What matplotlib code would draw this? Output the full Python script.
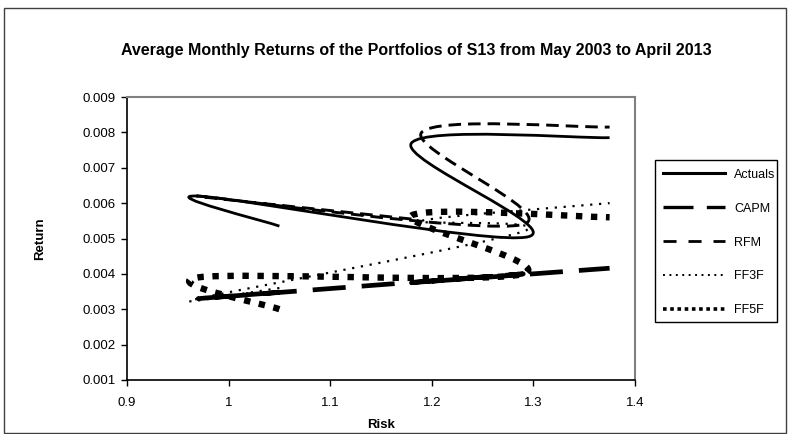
import numpy as np
import matplotlib
matplotlib.use("Agg")
import matplotlib.pyplot as plt
from matplotlib.path import Path
from matplotlib.patches import PathPatch, Rectangle
from matplotlib.lines import Line2D

# ---- data ----
series_names = ["Actuals", "CAPM", "RFM", "FF3F", "FF5F"]

actuals_risk = [1.05, 0.97, 1.295, 1.18, 1.375]
actuals_ret = [0.00535, 0.0062, 0.00505, 0.0077, 0.00785]

capm_risk = [1.05, 0.97, 1.29, 1.18, 1.375]
capm_ret = [0.00348, 0.0033, 0.0040, 0.00375, 0.00416]

rfm_risk = [1.18, 0.97, 1.29, 1.19, 1.375]
rfm_ret = [0.00555, 0.0062, 0.0054, 0.0080, 0.00815]

ff3f_risk = [1.05, 0.97, 1.29, 1.19, 1.375]
ff3f_ret = [0.0036, 0.0033, 0.0052, 0.0055, 0.0060]

ff5f_risk = [1.05, 0.97, 1.29, 1.18, 1.375]
ff5f_ret = [0.0030, 0.0039, 0.0040, 0.00565, 0.0056]

x_ticks = [0.9, 1, 1.1, 1.2, 1.3, 1.4]
x_ticklabels = ["0.9", "1", "1.1", "1.2", "1.3", "1.4"]
y_ticks = [0.001, 0.002, 0.003, 0.004, 0.005, 0.006, 0.007, 0.008, 0.009]
y_ticklabels = ["0.001", "0.002", "0.003", "0.004", "0.005", "0.006", "0.007", "0.008", "0.009"]

title = "Average Monthly Returns of the Portfolios of S13 from May 2003 to April 2013"

plt.rcParams['font.family'] = ['Liberation Sans', 'DejaVu Sans']

W, H = 791, 434
fig = plt.figure(figsize=(W / 100, H / 100), dpi=100)

# plot area in pixels
L, R, T, B = 127, 635, 97, 380
ax = fig.add_axes([L / W, 1 - B / H, (R - L) / W, (B - T) / H])
ax.set_xlim(0.9, 1.4)
ax.set_ylim(0.001, 0.009)


def smooth_path(xs, ys):
    """Excel-like smoothed scatter line (Catmull-Rom as cubic Bezier)."""
    P = np.column_stack([xs, ys]).astype(float)
    n = len(P)
    verts = [P[0]]
    codes = [Path.MOVETO]
    for i in range(n - 1):
        p0 = P[i - 1] if i > 0 else P[i]
        p1 = P[i]
        p2 = P[i + 1]
        p3 = P[i + 2] if i + 2 < n else P[i + 1]
        c1 = p1 + (p2 - p0) / 6.0
        c2 = p2 - (p3 - p1) / 6.0
        verts += [c1, c2, p2]
        codes += [Path.CURVE4] * 3
    return Path(verts, codes)


styles = {
    "Actuals": dict(lw=2.0, ls="-"),
    "CAPM": dict(lw=3.4, ls=(0, (7, 3.4))),
    "RFM": dict(lw=2.1, ls=(0, (4.3, 2.4))),
    "FF3F": dict(lw=1.6, ls=(0, (1, 3))),
    "FF5F": dict(lw=4.6, ls=(0, (1, 1.35))),
}
data = {
    "Actuals": (actuals_risk, actuals_ret),
    "CAPM": (capm_risk, capm_ret),
    "RFM": (rfm_risk, rfm_ret),
    "FF3F": (ff3f_risk, ff3f_ret),
    "FF5F": (ff5f_risk, ff5f_ret),
}

for name in series_names:
    xs, ys = data[name]
    st = styles[name]
    patch = PathPatch(smooth_path(xs, ys), fill=False, edgecolor="black",
                      lw=st["lw"], linestyle=st["ls"], capstyle="butt",
                      joinstyle="round", zorder=3)
    ax.add_patch(patch)

ax.set_xticks(x_ticks)
ax.set_xticklabels(x_ticklabels)
ax.set_yticks(y_ticks)
ax.set_yticklabels(y_ticklabels)
ax.tick_params(axis="both", direction="out", length=4, width=1, labelsize=9.5,
               colors="black", pad=4)
ax.tick_params(axis="x", pad=8)
for side in ["top", "right"]:
    ax.spines[side].set_color("#808080")
    ax.spines[side].set_linewidth(1.5)
for side in ["left", "bottom"]:
    ax.spines[side].set_color("black")
    ax.spines[side].set_linewidth(1.2)

fig.text(40 / W, 1 - (T + B) / 2 / H, "Return", rotation=90, ha="center",
         va="center", fontsize=9.5, fontweight="bold")
fig.text((L + R) / 2 / W, 1 - 425 / H, "Risk", ha="center", va="center",
         fontsize=9.5, fontweight="bold")

fig.text(416 / W, 1 - 51 / H, title, ha="center", va="center",
         fontsize=11.5, fontweight="bold")

# legend (sample lines are thinner than the plotted lines, as in Excel)
leg_styles = {
    "Actuals": dict(lw=2.2, ls="-"),
    "CAPM": dict(lw=2.4, ls=(0, (9, 4))),
    "RFM": dict(lw=2.0, ls=(0, (4.7, 4.3))),
    "FF3F": dict(lw=1.4, ls=(0, (1, 2.3))),
    "FF5F": dict(lw=2.6, ls=(0, (1, 1))),
}
handles = [Line2D([0], [0], color="black", lw=leg_styles[n]["lw"],
                  linestyle=leg_styles[n]["ls"], dash_capstyle="butt")
           for n in series_names]
leg = fig.legend(handles, series_names, loc="upper left",
                 bbox_to_anchor=(659 / W, 1 - 165 / H), fontsize=9,
                 frameon=False, handlelength=5.0, handletextpad=0.7,
                 labelspacing=1.75, borderpad=0.3, borderaxespad=0)
# legend box
fig.patches.append(Rectangle((655 / W, 1 - 322 / H), 122 / W, 162 / H,
                             transform=fig.transFigure, fill=False,
                             edgecolor="black", lw=1.0))

# chart-area border
fig.patches.append(Rectangle((4 / W, 1 / H), 782 / W, 425 / H,
                             transform=fig.transFigure, fill=False,
                             edgecolor="#404040", lw=1.0))

fig.savefig("out.png", dpi=100)
